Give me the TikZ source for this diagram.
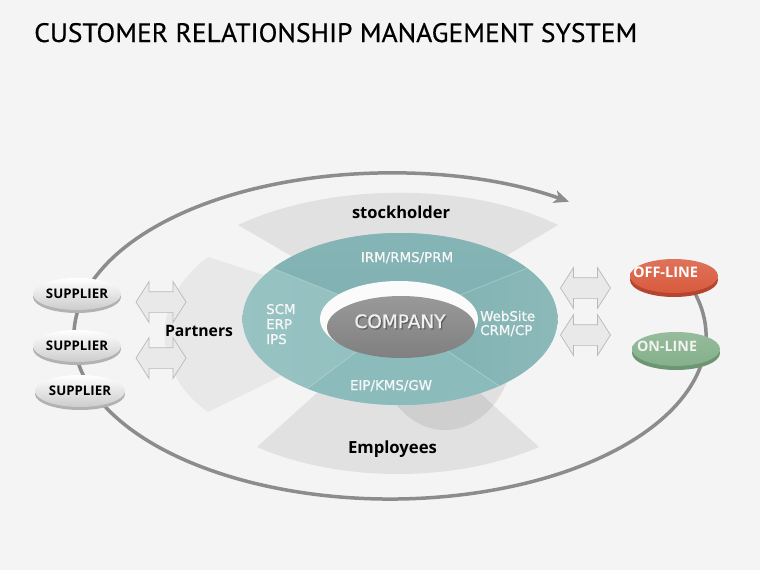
\documentclass[tikz,border=0pt]{standalone}
\usepackage{fontspec}
\setmainfont{Open Sans}
\newfontfamily\titlefont[FakeBold=0.4]{PT Sans}
\newfontfamily\ringfont[FakeBold=0.9]{DejaVu Sans}
\usetikzlibrary{shapes.arrows,shapes.geometric,arrows.meta}
\definecolor{bg}{HTML}{F4F4F4}
\definecolor{loopgray}{HTML}{8C8C8C}
\definecolor{sectgray}{HTML}{E1E1E1}
\definecolor{arrowfill}{HTML}{E9E9E9}
\definecolor{arrowedge}{HTML}{B9B9B9}
\definecolor{holefill}{HTML}{FBFBFB}
\definecolor{tealA}{HTML}{8CBBBC}
\definecolor{tealL}{HTML}{98C3C3}
\definecolor{tealD}{HTML}{80B0B1}
\definecolor{offred}{HTML}{D95A3D}
\definecolor{offrim}{HTML}{B44530}
\definecolor{ongreen}{HTML}{84B08A}
\definecolor{onrim}{HTML}{6C9572}
\newcommand\rsfit[2]{\resizebox{#1}{!}{#2}}
\tikzset{
  loopline/.style={draw=loopgray, line width=3.5pt},
  sectorfill/.style={fill=sectgray},
  darrow/.style={double arrow, draw=arrowedge, fill=arrowfill, line width=0.7pt,
    minimum height=50pt, double arrow head extend=10pt,
    double arrow tip angle=115, inner sep=0pt},
  suppnode/.style={ellipse, minimum width=88pt, minimum height=32pt, inner sep=0pt,
    top color=white, bottom color=black!20, draw=none},
  supprim/.style={fill=black!30},
  boldlbl/.style={font=\bfseries, text=black, inner sep=0pt},
  ringlbl/.style={font=\ringfont\fontsize{13.4}{15}\selectfont, text=white!97!black, inner sep=0pt},
  pilltxt/.style={font=\bfseries, text=white, inner sep=0pt}
}
\begin{document}
\begin{tikzpicture}[x=1pt,y=1pt]
\fill[bg] (0,0) rectangle (760,-570);
\useasboundingbox (0,0) rectangle (760,-570);

% title
\node[anchor=base west, inner sep=0pt] (title) at (34,-42)
  {\resizebox{603pt}{19pt}{\titlefont CUSTOMER RELATIONSHIP MANAGEMENT SYSTEM}};

% big loop with arrow
\draw[loopline, -{Stealth[length=15pt,width=13pt,inset=4pt]}]
  (390,-336) ++(20:316 and 163)
  arc[start angle=20, end angle=-304.5, x radius=316, y radius=163];

% sectors
\fill[sectorfill] (238,-225) .. controls (330,-182) and (470,-182) .. (558,-225)
  -- (479,-272) -- (319,-272) -- cycle;
\fill[sectorfill] (257,-447) .. controls (340,-483) and (455,-483) .. (539,-447)
  -- (469,-383) -- (328,-383) -- cycle;
\fill[fill=black!9] (208,-257) .. controls (150,-300) and (150,-370) .. (208,-412)
  -- (304,-365) -- (304,-288) -- cycle;

% ring shadow
\fill[black, opacity=0.08] (445,-340) ellipse[x radius=70, y radius=90];

% ring
\begin{scope}
  \clip (400,-319) ellipse[x radius=157.5, y radius=86];
  \shade[left color=tealL, right color=tealA] (230,-220) rectangle (570,-420);
  \shade[top color=tealA, bottom color=tealD] (400,-319) -- (144,-217) -- (144,-100)
     -- (660,-100) -- (660,-215) -- cycle;
  \shade[left color=tealD, right color=tealL] (400,-319) -- (660,-215) -- (720,-215)
     -- (720,-511) -- (685,-511) -- cycle;
  \fill[tealA] (400,-319) -- (685,-511) -- (685,-540) -- (124,-540) -- (124,-526) -- cycle;
  \draw[white, opacity=0.25, line width=0.8pt] (400,-319) -- (144,-217);
  \draw[white, opacity=0.25, line width=0.8pt] (400,-319) -- (660,-215);
  \draw[white, opacity=0.25, line width=0.8pt] (400,-319) -- (685,-511);
  \draw[white, opacity=0.25, line width=0.8pt] (400,-319) -- (124,-526);
\end{scope}
% hole and company
\fill[holefill] (399,-319) ellipse[x radius=79, y radius=38];
\shade[top color=black!40, bottom color=black!50] (401,-327) ellipse[x radius=74, y radius=31];
\node[inner sep=0pt, anchor=base, text=black!62] (companyshadow) at (401.3,-329.3)
  {\rsfit{91pt}{\ringfont\fontsize{19}{20}\selectfont COMPANY}};
\node[inner sep=0pt, anchor=base, text=white!94!black] (company) at (400,-328)
  {\rsfit{91pt}{\ringfont\fontsize{19}{20}\selectfont COMPANY}};

% ring labels
\node[ringlbl, anchor=base] (irm) at (407,-262) {IRM/RMS/PRM};
\node[ringlbl, anchor=base west] (scm) at (266,-314) {SCM};
\node[ringlbl, anchor=base west] (erp) at (266,-329) {ERP};
\node[ringlbl, anchor=base west] (ips) at (266,-344) {IPS};
\node[ringlbl, anchor=base west] (web) at (480,-321) {WebSite};
\node[ringlbl, anchor=base west] (crm) at (480,-335) {CRM/CP};
\node[ringlbl, anchor=base] (eip) at (391,-390) {EIP/KMS/GW};

% sector labels
\node[boldlbl, anchor=base] (stock) at (401,-218) {\rsfit{98pt}{\fontsize{16}{18}\selectfont\bfseries stockholder}};
\node[boldlbl, anchor=base] (partners) at (199,-336) {\rsfit{68pt}{\fontsize{16}{18}\selectfont\bfseries Partners}};
\node[boldlbl, anchor=base] (employees) at (392.5,-453) {\rsfit{89pt}{\fontsize{16}{18}\selectfont\bfseries Employees}};

% double arrows
\node[darrow] (la1) at (161,-302) {\rule{0pt}{20pt}};
\node[darrow] (la2) at (161,-358) {\rule{0pt}{20pt}};
\node[darrow] (ra1) at (585.5,-288) {\rule{0pt}{20pt}};
\node[darrow] (ra2) at (585.5,-335) {\rule{0pt}{20pt}};

% suppliers
\fill[supprim] (77,-297) ellipse[x radius=44, y radius=16];
\node[suppnode] (s1) at (77,-294) {\rsfit{62pt}{\fontsize{13}{14}\selectfont\bfseries SUPPLIER}};
\fill[supprim] (77,-349) ellipse[x radius=44, y radius=16];
\node[suppnode] (s2) at (77,-346) {\rsfit{62pt}{\fontsize{13}{14}\selectfont\bfseries SUPPLIER}};
\fill[supprim] (80,-394) ellipse[x radius=45, y radius=16];
\node[suppnode, minimum width=90pt] (s3) at (80,-391) {\rsfit{62pt}{\fontsize{13}{14}\selectfont\bfseries SUPPLIER}};

% off-line / on-line
\fill[offrim] (674,-280) ellipse[x radius=44, y radius=17];
\node[ellipse, minimum width=88pt, minimum height=34pt, inner sep=0pt,
      top color=offred!85!white, bottom color=offred] (off) at (674,-276) {};
\node[pilltxt, anchor=base] (offtxt) at (665.5,-277) {\rsfit{65pt}{\fontsize{13}{14}\selectfont\bfseries OFF-LINE}};
\fill[onrim] (676,-353) ellipse[x radius=44, y radius=17];
\node[ellipse, minimum width=88pt, minimum height=34pt, inner sep=0pt,
      top color=ongreen!85!white, bottom color=ongreen] (on) at (676,-349) {};
\node[pilltxt, anchor=base, text=white!95!black] (ontxt) at (667,-351) {\rsfit{60pt}{\fontsize{13}{14}\selectfont\bfseries ON-LINE}};
\end{tikzpicture}
\end{document}
